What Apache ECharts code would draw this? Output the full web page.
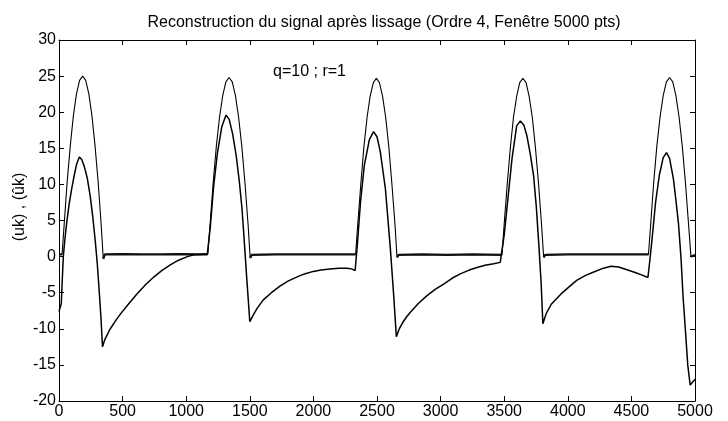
<!DOCTYPE html>
<html>
<head>
<meta charset="utf-8">
<script src="https://cdn.jsdelivr.net/npm/echarts@6/dist/echarts.min.js"></script>
<style>
html,body{margin:0;padding:0;background:#fff;}
#chart{width:728px;height:421px;}
</style>
</head>
<body>
<div id="chart"></div>
<script>
// ---- data ----
const titleText = 'Reconstruction du signal après lissage (Ordre 4, Fenêtre 5000 pts)';
const yName = '(uk) , (ûk)';
const noteText = 'q=10 ; r=1';

// measured signal uk
const ukX = [0,24,40,64,89,113,137,162,186,210,235,259,283,308,332,348,
  360,500,650,800,950,1100,1170,
  1187,1212,1237,1262,1287,1312,1337,1362,1387,1412,1437,1462,1487,1503,
  1515,1700,1900,2100,2332,
  2348,2373,2397,2422,2446,2471,2495,2519,2544,2568,2593,2617,2642,2657,
  2670,2850,3050,3250,3483,
  3499,3524,3549,3573,3598,3622,3647,3672,3696,3721,3745,3770,3794,3810,
  3822,4000,4200,4400,4634,
  4651,4675,4700,4725,4750,4775,4800,4825,4850,4875,4900,4925,4950,4968,
  4980,5000];
const ukY = [0.3,0.3,4.3,10.3,15.4,19.5,22.5,24.4,25.0,24.4,22.5,19.5,15.4,10.3,4.3,-0.3,
  0.3,0.35,0.3,0.3,0.35,0.3,0.35,
  4.3,10.2,15.3,19.3,22.3,24.2,24.8,24.2,22.3,19.3,15.3,10.2,4.3,-0.2,
  0.25,0.3,0.3,0.3,0.3,
  4.3,10.1,15.2,19.3,22.2,24.1,24.7,24.1,22.2,19.3,15.2,10.1,4.3,-0.1,
  0.25,0.3,0.25,0.3,0.25,
  4.3,10.1,15.2,19.3,22.2,24.1,24.7,24.1,22.2,19.3,15.2,10.1,4.3,-0.1,
  0.25,0.3,0.3,0.3,0.3,
  4.3,10.2,15.3,19.3,22.3,24.2,24.8,24.2,22.3,19.3,15.3,10.2,4.3,0.0,
  0.2,0.2];

// reconstructed signal ûk
const uhX = [0,12,18,25,34,45,60,80,100,120,140,160,180,200,222,245,265,285,301,315,330,342,
  360,400,440,485,550,616,680,747,810,878,940,1009,1060,1120,1166,
  1190,1215,1245,1280,1313,1338,1365,1393,1417,1438,1457,1478,1500,
  1530,1560,1606,1670,1737,1800,1868,1930,1999,2060,2130,2200,2261,2300,2328,
  2345,2370,2400,2440,2473,2500,2526,2566,2605,2631,2652,
  2675,2700,2730,2762,2825,2893,2960,3024,3090,3155,3220,3286,3350,3417,3469,3480,
  3500,3521,3561,3598,3627,3655,3679,3705,3731,3752,3771,3790,3804,
  3830,3870,3945,4010,4070,4140,4209,4280,4340,4400,4471,4530,4575,4630,
  4645,4660,4690,4720,4750,4776,4800,4830,4850,4870,4890,4906,4925,4943,4962,4975,4990,5000];
const uhY = [-7.6,-7.4,-6.5,-3.5,0,2.2,4.6,7.3,9.4,11.3,12.9,13.8,13.4,12.4,10.9,8.4,5.6,2.2,-1.0,-4.5,-8.5,-12.5,
  -11.5,-10.1,-9.0,-7.9,-6.5,-5.1,-3.9,-2.8,-1.9,-1.1,-0.5,0.0,0.25,0.3,0.3,
  4.2,9.6,14.3,18.0,19.6,19.0,17.0,14.0,10.5,6.8,2.0,-3.5,-9.0,
  -8.0,-7.1,-6.0,-5.0,-4.1,-3.4,-2.85,-2.4,-2.05,-1.85,-1.72,-1.62,-1.6,-1.7,-1.95,
  1.5,7.5,12.6,16.2,17.3,16.6,14.5,9.4,1.1,-5.3,-11.1,
  -10.0,-9.2,-8.4,-7.7,-6.5,-5.4,-4.5,-3.8,-3.0,-2.4,-1.9,-1.5,-1.2,-1.0,-0.8,-0.9,
  3.0,6.6,13.5,18.1,18.8,18.2,16.7,14.2,11.2,7.0,2.0,-3.5,-9.3,
  -7.9,-6.6,-5.2,-4.2,-3.3,-2.6,-2.1,-1.6,-1.35,-1.45,-1.85,-2.2,-2.5,-2.9,
  -0.5,2.0,7.5,11.3,13.7,14.4,13.6,10.8,7.8,4.6,-0.2,-5.5,-10.3,-15.0,-17.8,-17.5,-17.2,-17.0];

const xTicks = [0,500,1000,1500,2000,2500,3000,3500,4000,4500,5000];
const yTicks = [-20,-15,-10,-5,0,5,10,15,20,25,30];

// ---- build ----
const ukData = ukX.map((x,i)=>[x,ukY[i]]);
const ukFlat = ukX.map((x,i)=>Math.abs(ukY[i])<0.6 ? [x,ukY[i]] : [x,null]);
const uhData = uhX.map((x,i)=>[x,uhY[i]]);

const font = 'Liberation Sans, Arial, sans-serif';
const chart = echarts.init(document.getElementById('chart'), null, {renderer:'canvas'});
const axisCommon = {
  type:'value',
  axisLine:{show:true, onZero:false, lineStyle:{color:'#000', width:1}},
  axisTick:{show:true, inside:true, length:5, lineStyle:{color:'#000'}},
  splitLine:{show:false}
};
chart.setOption({
  animation:false,
  backgroundColor:'#fff',
  title:{text:titleText, left:379, top:10, textAlign:'center',
    textStyle:{fontFamily:font, fontSize:16, fontWeight:'normal', color:'#000'}},
  grid:{left:59, right:33, top:40, bottom:20, containLabel:false},
  xAxis:[
    Object.assign({}, axisCommon, {min:xTicks[0], max:xTicks[xTicks.length-1], interval:500, position:'bottom',
      axisLabel:{color:'#000', fontFamily:font, fontSize:16, margin:3, formatter:(v)=>String(v)}}),
    Object.assign({}, axisCommon, {min:xTicks[0], max:xTicks[xTicks.length-1], interval:500, position:'top',
      axisLabel:{show:false}})
  ],
  yAxis:[
    Object.assign({}, axisCommon, {min:yTicks[0], max:yTicks[yTicks.length-1], interval:5, position:'left',
      axisLabel:{color:'#000', fontFamily:font, fontSize:16, margin:3, formatter:(v)=>String(v)}}),
    Object.assign({}, axisCommon, {min:yTicks[0], max:yTicks[yTicks.length-1], interval:5, position:'right',
      axisLabel:{show:false}})
  ],
  graphic:[
    {type:'text', x:20, y:207, rotation:Math.PI/2,
      style:{text:yName, fill:'#000', font:'16px Liberation Sans, Arial, sans-serif', align:'center', verticalAlign:'middle'}},
    {type:'text', left:273, top:64,
      style:{text:noteText, fill:'#000', font:'16px Liberation Sans, Arial, sans-serif'}}
  ],
  series:[
    {type:'line', name:'uk', data:ukData, showSymbol:false, symbol:'none',
      lineStyle:{color:'#000', width:1.1}, xAxisIndex:0, yAxisIndex:0},
    {type:'line', name:'uk-flat', data:ukFlat, showSymbol:false, symbol:'none', connectNulls:false,
      lineStyle:{color:'#111', width:2.3}, xAxisIndex:0, yAxisIndex:0},
    {type:'line', name:'ûk', data:uhData, showSymbol:false, symbol:'none',
      lineStyle:{color:'#000', width:1.5}, xAxisIndex:0, yAxisIndex:0}
  ]
});
</script>
</body>
</html>
